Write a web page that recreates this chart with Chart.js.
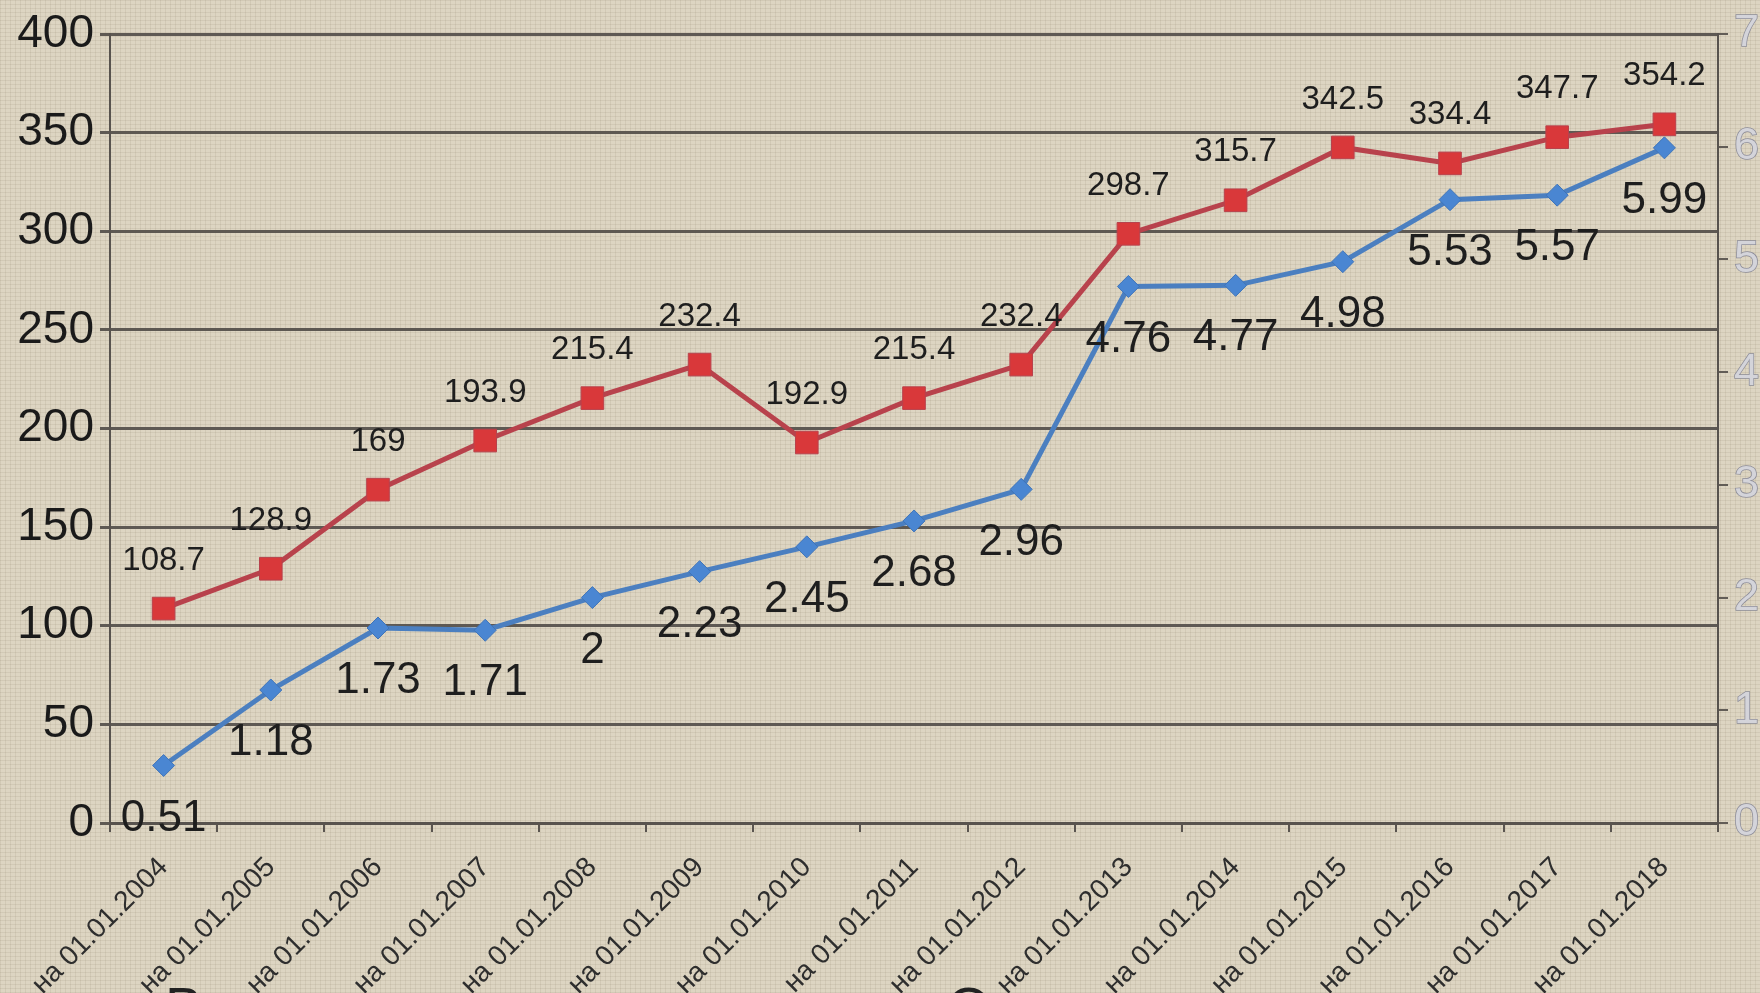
<!DOCTYPE html>
<html>
<head>
<meta charset="utf-8">
<script src="https://cdn.jsdelivr.net/npm/chart.js@4.4.1/dist/chart.umd.min.js"></script>
<style>
  html, body {
    margin: 0;
    padding: 0;
    overflow: hidden;
    width: 1760px;
    height: 993px;
    background-color: #ddd5c2;
    background-image:
      repeating-linear-gradient(0deg, rgba(110, 95, 70, 0.10) 0 1px, transparent 1px 4px),
      repeating-linear-gradient(90deg, rgba(110, 95, 70, 0.10) 0 1px, transparent 1px 5px);
  }
  #wrap { position: relative; width: 1760px; height: 993px; }
  .cut {
    position: absolute;
    font-family: "Liberation Sans", Arial, sans-serif;
    font-size: 56px;
    color: #222;
  }
</style>
</head>
<body>
<div id="wrap">
  <canvas id="chartRegion" width="1760" height="993"></canvas>
  <div class="cut" style="left:165px; top:974px;">В</div>
  <div class="cut" style="left:947px; top:974px;">О</div>
</div>
<script>
// data
const categories = [
  'на 01.01.2004', 'на 01.01.2005', 'на 01.01.2006', 'на 01.01.2007', 'на 01.01.2008',
  'на 01.01.2009', 'на 01.01.2010', 'на 01.01.2011', 'на 01.01.2012', 'на 01.01.2013',
  'на 01.01.2014', 'на 01.01.2015', 'на 01.01.2016', 'на 01.01.2017', 'на 01.01.2018'
]
const redValues = [108.7, 128.9, 169, 193.9, 215.4, 232.4, 192.9, 215.4, 232.4, 298.7, 315.7, 342.5, 334.4, 347.7, 354.2]
const blueValues = [0.51, 1.18, 1.73, 1.71, 2, 2.23, 2.45, 2.68, 2.96, 4.76, 4.77, 4.98, 5.53, 5.57, 5.99]
const leftTicks = [0, 400, 50]
const rightTicks = [0, 7, 1]

const fontFamily = '"Liberation Sans", Arial, sans-serif'

// draws the value next to every point
const valueLabels = {
  id: 'valueLabels',
  afterDatasetsDraw(chart) {
    const ctx = chart.ctx
    chart.data.datasets.forEach((ds, i) => {
      const meta = chart.getDatasetMeta(i)
      ctx.save()
      ctx.font = `${ds.labelSize}px ${fontFamily}`
      ctx.fillStyle = '#1e1e1e'
      ctx.textAlign = 'center'
      ctx.textBaseline = 'middle'
      meta.data.forEach((pt, j) => {
        ctx.fillText(String(ds.data[j]), pt.x, pt.y + ds.labelShift)
      })
      ctx.restore()
    })
  }
}

const ctxRegion = document.getElementById('chartRegion').getContext('2d')
const chartRegion = new Chart(ctxRegion, {
  type: 'line',
  data: {
    labels: categories,
    datasets: [
      {
        label: 'red',
        data: redValues,
        yAxisID: 'yLeft',
        borderColor: '#b8424c',
        borderWidth: 5,
        pointStyle: 'rect',
        pointRadius: 16,
        pointBackgroundColor: '#d9383a',
        pointBorderColor: '#b8424c',
        pointBorderWidth: 1,
        labelSize: 33,
        labelShift: -48,
        order: 1,
      },
      {
        label: 'blue',
        data: blueValues,
        yAxisID: 'yRight',
        borderColor: '#4b7fc0',
        borderWidth: 5,
        pointStyle: 'rectRot',
        pointRadius: 11,
        pointBackgroundColor: '#4a86d2',
        pointBorderColor: '#3f74b8',
        pointBorderWidth: 1,
        labelSize: 44,
        labelShift: 53,
        order: 2,
      }
    ]
  },
  options: {
    responsive: false,
    animation: false,
    events: [],
    layout: { padding: { top: 34, left: 0, right: 0, bottom: 0 } },
    plugins: {
      legend: { display: false },
      tooltip: { enabled: false },
    },
    scales: {
      x: {
        offset: true,
        afterFit(scale) { scale.height = 170 },
        grid: {
          offset: true,
          drawOnChartArea: false,
          drawTicks: true,
          tickLength: 9,
          color: '#5a5550',
          lineWidth: 2,
        },
        border: { display: true, color: '#58534e', width: 3 },
        ticks: {
          autoSkip: false,
          minRotation: 45,
          maxRotation: 45,
          padding: 19,
          color: '#2e2e2e',
          font: { family: fontFamily, size: 28 },
        },
      },
      yLeft: {
        position: 'left',
        min: leftTicks[0],
        max: leftTicks[1],
        afterFit(scale) { scale.width = 110 },
        grid: {
          color: '#5e5953',
          lineWidth: 3,
          drawTicks: true,
          tickLength: 10,
        },
        border: { display: true, color: '#58534e', width: 2 },
        ticks: {
          stepSize: leftTicks[2],
          padding: 6,
          color: '#1a1a1a',
          font: { family: fontFamily, size: 46 },
        },
      },
      yRight: {
        position: 'right',
        min: rightTicks[0],
        max: rightTicks[1],
        afterFit(scale) { scale.width = 42 },
        grid: {
          drawOnChartArea: false,
          drawTicks: true,
          tickLength: 10,
          color: '#625d57',
          lineWidth: 2,
        },
        border: { display: true, color: '#58534e', width: 2 },
        ticks: {
          stepSize: rightTicks[2],
          padding: 6,
          color: '#d4d4da',
          textStrokeColor: '#8c8c98',
          textStrokeWidth: 1.5,
          font: { family: fontFamily, size: 45 },
        },
      },
    },
  },
  plugins: [valueLabels],
})
</script>
</body>
</html>
